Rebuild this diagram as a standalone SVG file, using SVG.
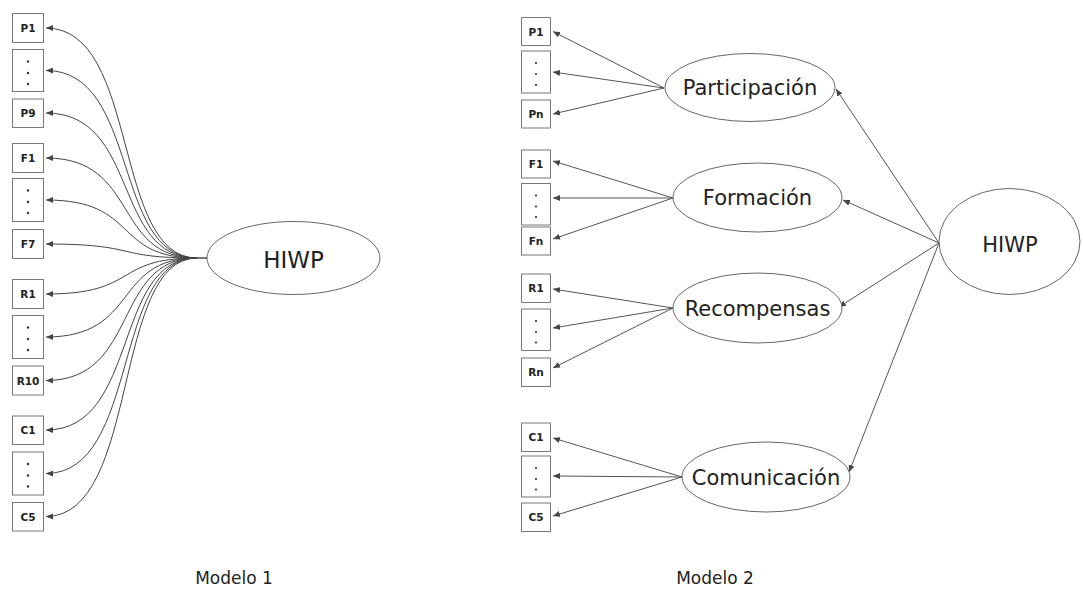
<svg xmlns="http://www.w3.org/2000/svg" width="1083" height="590" viewBox="0 0 1083 590">
<defs>
<marker id="ah" markerWidth="8" markerHeight="6" refX="7" refY="3" orient="auto" markerUnits="userSpaceOnUse"><path d="M0,0 L7,3 L0,6 z" fill="#444"/></marker>
<style>
.box{fill:#fff;stroke:#777;stroke-width:1}
.bl{font-family:"DejaVu Sans",Verdana,sans-serif;font-weight:bold;font-size:10.5px;fill:#222;text-anchor:middle}
.dot{fill:#333}
.ell{fill:#fff;stroke:#666;stroke-width:1}
.el{font-family:"DejaVu Sans",Verdana,sans-serif;font-size:21px;fill:#222;text-anchor:middle}
.cap{font-family:"DejaVu Sans",Verdana,sans-serif;font-size:17px;fill:#222;text-anchor:middle}
.c{fill:none;stroke:#444;stroke-width:1;marker-end:url(#ah)}
.s{fill:none;stroke:#555;stroke-width:1;marker-end:url(#ah)}
</style>
</defs>
<rect width="1083" height="590" fill="#fff"/>

<!-- Model 1 connectors -->
<g id="connectors-m1">
<path class="c" d="M197,258 C112,258 140,28 46,28"/>
<path class="c" d="M197,258 C112,258 140,70.5 46,70.5"/>
<path class="c" d="M197,258 C112,258 140,113 46,113"/>
<path class="c" d="M197,258 C112,258 140,158 46,158"/>
<path class="c" d="M197,258 C112,258 140,200 46,200"/>
<path class="c" d="M197,258 C112,258 140,244 46,244"/>
<path class="c" d="M197,258 C112,258 140,294 46,294"/>
<path class="c" d="M197,258 C112,258 140,337 46,337"/>
<path class="c" d="M197,258 C112,258 140,380.5 46,380.5"/>
<path class="c" d="M197,258 C112,258 140,430 46,430"/>
<path class="c" d="M197,258 C112,258 140,473.5 46,473.5"/>
<path class="c" d="M197,258 C112,258 140,516.5 46,516.5"/>
<line x1="196" y1="258" x2="207" y2="258" stroke="#444" stroke-width="1.5"/>
</g>

<!-- Model 1 nodes -->
<g id="m1-P1"><rect class="box" x="12.5" y="13.5" width="31" height="29"/><text class="bl" x="28" y="32">P1</text></g>
<g id="m1-Pdots"><rect class="box" x="12.5" y="49.5" width="31" height="42"/><circle class="dot" cx="28" cy="61.5" r="1.2"/><circle class="dot" cx="28" cy="73" r="1.2"/><circle class="dot" cx="28" cy="84" r="1.2"/></g>
<g id="m1-P9"><rect class="box" x="12.5" y="99" width="31" height="28.5"/><text class="bl" x="28" y="117">P9</text></g>
<g id="m1-F1"><rect class="box" x="12.5" y="143.5" width="31" height="29"/><text class="bl" x="28" y="162">F1</text></g>
<g id="m1-Fdots"><rect class="box" x="12.5" y="178.5" width="31" height="43"/><circle class="dot" cx="28" cy="190.5" r="1.2"/><circle class="dot" cx="28" cy="202" r="1.2"/><circle class="dot" cx="28" cy="213" r="1.2"/></g>
<g id="m1-F7"><rect class="box" x="12.5" y="229.5" width="31" height="29"/><text class="bl" x="28" y="248">F7</text></g>
<g id="m1-R1"><rect class="box" x="12.5" y="279.5" width="31" height="29"/><text class="bl" x="28" y="298">R1</text></g>
<g id="m1-Rdots"><rect class="box" x="12.5" y="315.5" width="31" height="43"/><circle class="dot" cx="28" cy="327.5" r="1.2"/><circle class="dot" cx="28" cy="339" r="1.2"/><circle class="dot" cx="28" cy="350" r="1.2"/></g>
<g id="m1-R10"><rect class="box" x="12.5" y="366" width="31" height="29"/><text class="bl" x="28" y="384.5">R10</text></g>
<g id="m1-C1"><rect class="box" x="12.5" y="416" width="31" height="28.5"/><text class="bl" x="28" y="434">C1</text></g>
<g id="m1-Cdots"><rect class="box" x="12.5" y="452" width="31" height="43"/><circle class="dot" cx="28" cy="464" r="1.2"/><circle class="dot" cx="28" cy="475.5" r="1.2"/><circle class="dot" cx="28" cy="486.5" r="1.2"/></g>
<g id="m1-C5"><rect class="box" x="12.5" y="502.5" width="31" height="28.5"/><text class="bl" x="28" y="520.5">C5</text></g>
<g id="m1-HIWP"><ellipse class="ell" cx="293.5" cy="258" rx="86.5" ry="36.5"/><text class="el" x="293.5" y="268" style="font-size:23px">HIWP</text></g>

<text class="cap" x="234" y="584">Modelo 1</text>

<!-- Model 2 connectors -->
<g id="connectors-m2">
<line class="s" x1="664" y1="88" x2="553" y2="31.5"/>
<line class="s" x1="664" y1="88" x2="553" y2="72"/>
<line class="s" x1="664" y1="88" x2="553" y2="114"/>
<line class="s" x1="673" y1="198" x2="553" y2="161"/>
<line class="s" x1="673" y1="198" x2="553" y2="198"/>
<line class="s" x1="673" y1="198" x2="553" y2="239"/>
<line class="s" x1="673" y1="308" x2="553" y2="289"/>
<line class="s" x1="673" y1="308" x2="553" y2="328"/>
<line class="s" x1="673" y1="308" x2="553" y2="368"/>
<line class="s" x1="682" y1="477" x2="553" y2="438"/>
<line class="s" x1="682" y1="477" x2="553" y2="476"/>
<line class="s" x1="682" y1="477" x2="553" y2="516"/>
<line class="s" x1="939" y1="243" x2="836" y2="89"/>
<line class="s" x1="939" y1="243" x2="843" y2="200"/>
<line class="s" x1="939" y1="243" x2="839" y2="307"/>
<line class="s" x1="939" y1="243" x2="849" y2="472"/>
</g>

<!-- Model 2 nodes -->
<g id="m2-P1"><rect class="box" x="521.5" y="17.5" width="29" height="28"/><text class="bl" x="536" y="35.5">P1</text></g>
<g id="m2-Pdots"><rect class="box" x="521.5" y="51" width="29" height="42"/><circle class="dot" cx="536" cy="63" r="1.1"/><circle class="dot" cx="536" cy="74" r="1.1"/><circle class="dot" cx="536" cy="85" r="1.1"/></g>
<g id="m2-Pn"><rect class="box" x="521.5" y="100" width="29" height="28"/><text class="bl" x="536" y="118">Pn</text></g>
<g id="m2-F1"><rect class="box" x="521.5" y="150" width="29" height="28"/><text class="bl" x="536" y="168">F1</text></g>
<g id="m2-Fdots"><rect class="box" x="521.5" y="183.5" width="29" height="41.5"/><circle class="dot" cx="536" cy="195.5" r="1.1"/><circle class="dot" cx="536" cy="206.5" r="1.1"/><circle class="dot" cx="536" cy="217" r="1.1"/></g>
<g id="m2-Fn"><rect class="box" x="521.5" y="227" width="29" height="28"/><text class="bl" x="536" y="245">Fn</text></g>
<g id="m2-R1"><rect class="box" x="521.5" y="274" width="29" height="28.5"/><text class="bl" x="536" y="292">R1</text></g>
<g id="m2-Rdots"><rect class="box" x="521.5" y="309" width="29" height="41.5"/><circle class="dot" cx="536" cy="321" r="1.1"/><circle class="dot" cx="536" cy="332" r="1.1"/><circle class="dot" cx="536" cy="342.5" r="1.1"/></g>
<g id="m2-Rn"><rect class="box" x="521.5" y="358" width="29" height="28.5"/><text class="bl" x="536" y="376">Rn</text></g>
<g id="m2-C1"><rect class="box" x="521.5" y="423" width="29" height="28.5"/><text class="bl" x="536" y="441">C1</text></g>
<g id="m2-Cdots"><rect class="box" x="521.5" y="456" width="29" height="41"/><circle class="dot" cx="536" cy="468" r="1.1"/><circle class="dot" cx="536" cy="479" r="1.1"/><circle class="dot" cx="536" cy="489.5" r="1.1"/></g>
<g id="m2-C5"><rect class="box" x="521.5" y="503" width="29" height="28.5"/><text class="bl" x="536" y="521">C5</text></g>

<g id="m2-Participacion"><ellipse class="ell" cx="750" cy="87.5" rx="85" ry="34"/><text class="el" x="750" y="95">Participación</text></g>
<g id="m2-Formacion"><ellipse class="ell" cx="757.5" cy="197.5" rx="84.5" ry="34.5"/><text class="el" x="757.5" y="205">Formación</text></g>
<g id="m2-Recompensas"><ellipse class="ell" cx="757.5" cy="308" rx="84.5" ry="35"/><text class="el" x="757.5" y="315.5">Recompensas</text></g>
<g id="m2-Comunicacion"><ellipse class="ell" cx="766" cy="477" rx="84" ry="35"/><text class="el" x="766" y="484.5">Comunicación</text></g>
<g id="m2-HIWP"><ellipse class="ell" cx="1009.5" cy="241.5" rx="70.5" ry="53"/><text class="el" x="1010" y="252">HIWP</text></g>

<text class="cap" x="715" y="584">Modelo 2</text>
</svg>
